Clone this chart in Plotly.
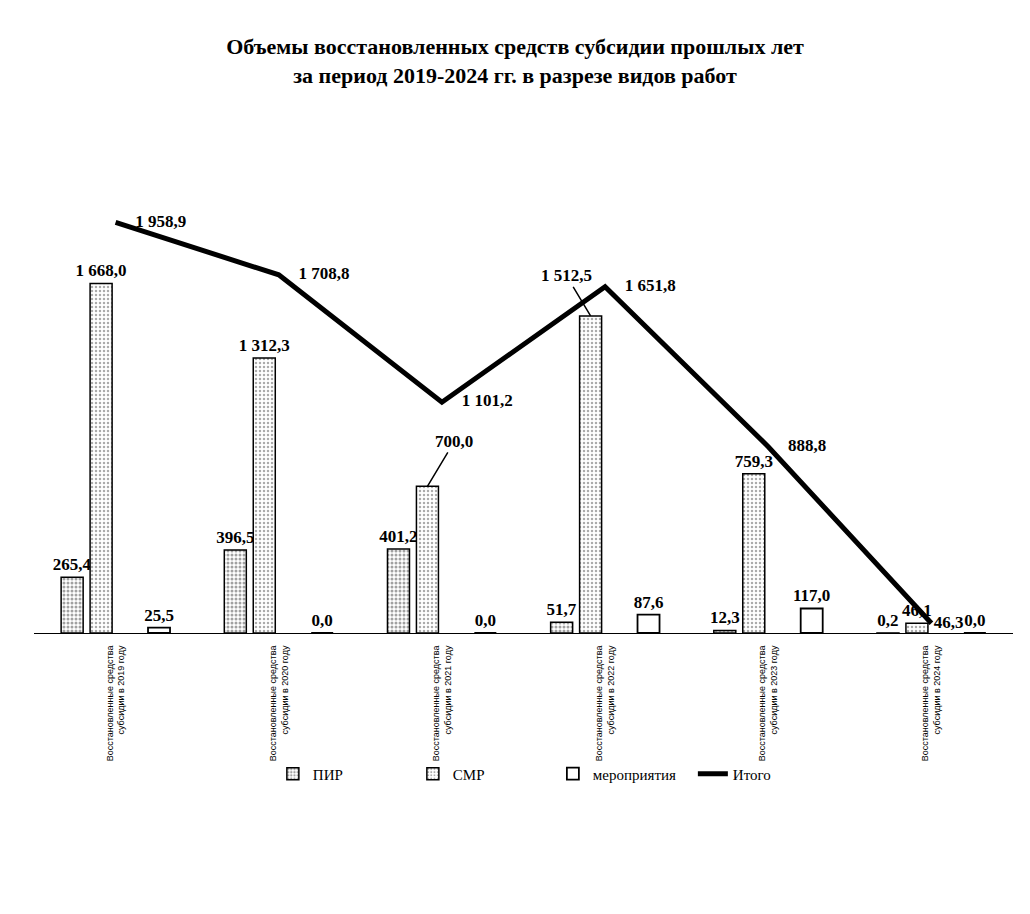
import plotly.graph_objects as go

years = ["2019", "2020", "2021", "2022", "2023", "2024"]
categories = [f"Восстановленные средства<br>субсидии в {y} году" for y in years]
pir = [265.4, 396.5, 401.2, 51.7, 12.3, 0.2]
smr = [1668.0, 1312.3, 700.0, 1512.5, 759.3, 46.1]
mer = [25.5, 0.0, 0.0, 87.6, 117.0, 0.0]
total = [1958.9, 1708.8, 1101.2, 1651.8, 888.8, 46.3]
title_text = "<b>Объемы восстановленных средств субсидии прошлых лет<br>за период 2019-2024 гг. в разрезе видов работ</b>"

# labels placed with leader lines instead of on top of bar
leader_idx = {2: (27, -45), 3: (-24, -40)}


def fmt(v):
    return f"{v:,.1f}".replace(",", " ").replace(".", ",")


def bold(s):
    return f"<b>{s}</b>"


LBL_FONT = dict(family="Liberation Serif", size=17, color="black")

fig = go.Figure()
fig.add_trace(go.Bar(
    name="ПИР", x=categories, y=pir,
    text=[bold(fmt(v)) for v in pir], textposition="outside", textfont=LBL_FONT,
    cliponaxis=False, constraintext="none",
    marker=dict(color="white", line=dict(color="black", width=1.5),
                pattern=dict(shape=".", fgcolor="#444", bgcolor="white", size=4, solidity=0.45)),
))
fig.add_trace(go.Bar(
    name="СМР", x=categories, y=smr,
    text=["" if i in leader_idx else bold(fmt(v)) for i, v in enumerate(smr)],
    textposition="outside", textfont=LBL_FONT, cliponaxis=False, constraintext="none",
    marker=dict(color="white", line=dict(color="black", width=1.5),
                pattern=dict(shape=".", fgcolor="#555", bgcolor="white", size=4, solidity=0.3)),
))
# empty slot (as in the original grouped layout)
fig.add_trace(go.Bar(
    name="", x=categories, y=[None] * len(categories), showlegend=False, hoverinfo="skip",
))
fig.add_trace(go.Bar(
    name="мероприятия", x=categories, y=mer,
    text=[bold(fmt(v)) for v in mer], textposition="outside", textfont=LBL_FONT,
    cliponaxis=False, constraintext="none",
    marker=dict(color="white", line=dict(color="black", width=1.8)),
))
fig.add_trace(go.Scatter(
    name="Итого", x=categories, y=total, mode="lines+markers+text",
    text=[bold(fmt(v)) for v in total], textposition="middle right", textfont=LBL_FONT,
    line=dict(color="black", width=5),
    marker=dict(size=[30, 30, 30, 30, 30, 2], color="rgba(0,0,0,0)",
                line=dict(width=0, color="rgba(0,0,0,0)")),
    cliponaxis=False,
))

for i, (ax, ay) in leader_idx.items():
    fig.add_annotation(
        x=categories[i], y=smr[i], xref="x", yref="y", xshift=-14.5,
        text=bold(fmt(smr[i])), showarrow=True, arrowhead=0, arrowwidth=1.5, arrowcolor="black",
        ax=ax, ay=ay, font=LBL_FONT, standoff=0,
    )

fig.update_layout(
    width=1030, height=914,
    paper_bgcolor="white", plot_bgcolor="white",
    margin=dict(l=34, r=17, t=109, b=281),
    barmode="group", bargap=0.29, bargroupgap=0.24,
    title=dict(text=title_text, x=0.5, xanchor="center", y=0.941, yanchor="top",
               font=dict(family="Liberation Serif", size=22, color="black")),
    showlegend=True,
    legend=dict(orientation="h", x=0.53, xanchor="center", y=-0.269, yanchor="middle",
                font=dict(family="Liberation Serif", size=15, color="black"),
                bgcolor="rgba(0,0,0,0)", itemwidth=30, traceorder="normal",
                entrywidth=95, entrywidthmode="pixels"),
    font=dict(family="Liberation Serif", color="black"),
)
fig.update_xaxes(
    showline=True, linecolor="black", linewidth=1, tickangle=-90,
    showgrid=False, ticks="", ticklabelstandoff=8, automargin=False,
    tickfont=dict(family="Liberation Sans, Arial", size=9, color="black"),
)
fig.update_yaxes(range=[0, 2500], visible=False, showgrid=False, zeroline=False)

fig.write_html("out.html", config={"displayModeBar": False},
               post_script="document.body.style.margin='0';")
